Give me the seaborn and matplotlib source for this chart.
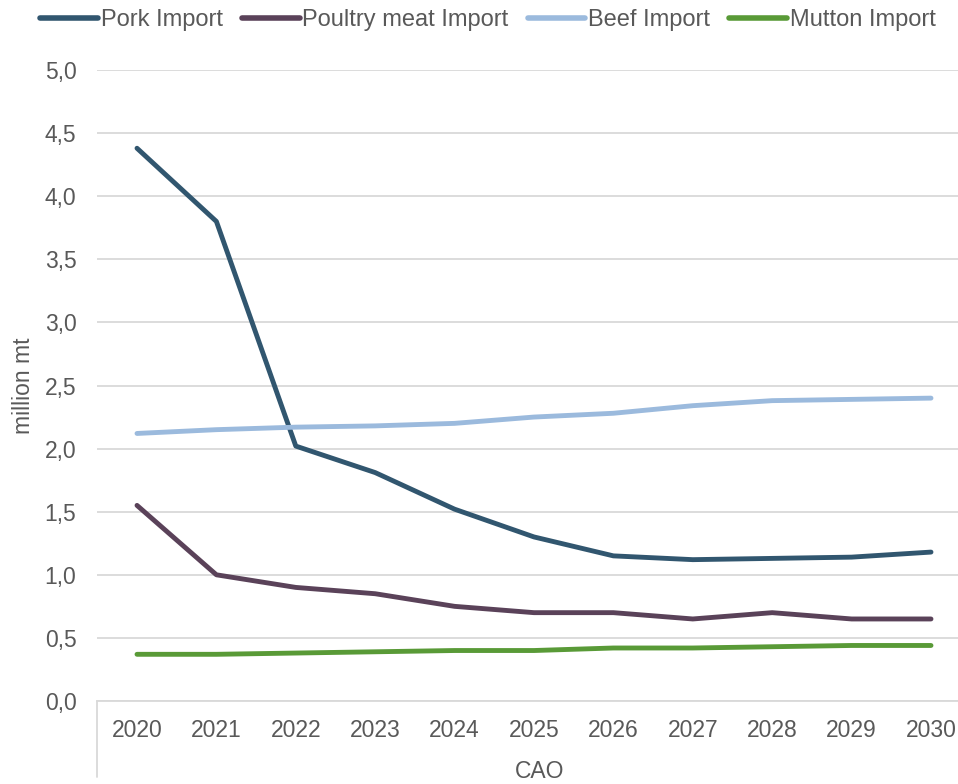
import matplotlib
matplotlib.use("Agg")
import matplotlib.pyplot as plt
import pandas as pd
import seaborn as sns
from matplotlib.ticker import FuncFormatter, MultipleLocator

years = [2020, 2021, 2022, 2023, 2024, 2025, 2026, 2027, 2028, 2029, 2030]
pork = [4.38, 3.80, 2.02, 1.81, 1.52, 1.30, 1.15, 1.12, 1.13, 1.14, 1.18]
poultry = [1.55, 1.00, 0.90, 0.85, 0.75, 0.70, 0.70, 0.65, 0.70, 0.65, 0.65]
beef = [2.12, 2.15, 2.17, 2.18, 2.20, 2.25, 2.28, 2.34, 2.38, 2.39, 2.40]
mutton = [0.37, 0.37, 0.38, 0.39, 0.40, 0.40, 0.42, 0.42, 0.43, 0.44, 0.44]

series_names = ["Pork Import", "Poultry meat Import", "Beef Import", "Mutton Import"]
palette = ["#31566F", "#5A4259", "#9BBADD", "#599A37"]

df = pd.DataFrame({"year": years, series_names[0]: pork, series_names[1]: poultry,
                   series_names[2]: beef, series_names[3]: mutton})
long_df = df.melt(id_vars="year", var_name="series", value_name="value")

sns.set_style("white")
plt.rcParams["font.family"] = ["Liberation Sans", "DejaVu Sans"]
txt_color = "#595959"
grid_color = "#D9D9D9"
fsize = 16.5

fig = plt.figure(figsize=(9.58, 7.84), dpi=100)
ax = fig.add_axes([97.3 / 958, 83 / 784, 873.4 / 958, 631 / 784])

sns.lineplot(data=long_df, x="year", y="value", hue="series", hue_order=series_names,
             palette=palette, linewidth=3.5, ax=ax, legend=False,
             solid_capstyle="round")

ax.set_xlim(2019.5, 2030.5)
ax.set_ylim(0, 5)
ax.yaxis.set_major_locator(MultipleLocator(0.5))
ax.yaxis.set_major_formatter(FuncFormatter(lambda v, p: f"{v:.1f}".replace(".", ",")))
ax.set_xticks(years)
ax.set_xticklabels([str(y) for y in years])
ax.grid(axis="y", color=grid_color, linewidth=1.3)
ax.set_axisbelow(True)
for s in ["left", "right", "top"]:
    ax.spines[s].set_visible(False)
ax.spines["bottom"].set_color(grid_color)
ax.spines["bottom"].set_linewidth(1.3)
ax.tick_params(axis="both", length=0, labelsize=fsize, colors=txt_color)
ax.tick_params(axis="y", pad=15)
ax.tick_params(axis="x", pad=13)
ax.set_xlabel("")
ax.set_ylabel("million mt", fontsize=fsize, color=txt_color, labelpad=7)

# group divider and group label of the category axis
ax.plot([0, 0], [0, -0.12], transform=ax.transAxes, color=grid_color,
        linewidth=1.3, clip_on=False)
fig.text(540 / 958, 1 - 772 / 784, "CAO", fontsize=fsize, color=txt_color,
         ha="center", va="center")

handles = [plt.Line2D([], [], color=c, linewidth=4, solid_capstyle="round") for c in palette]
fig.legend(handles, series_names, loc="center", bbox_to_anchor=(488 / 958, 1 - 20 / 784),
           ncol=4, frameon=False, fontsize=17, handlelength=2.45, handletextpad=0.12,
           columnspacing=0.8, labelcolor=txt_color)

fig.savefig("out.png", dpi=100)
